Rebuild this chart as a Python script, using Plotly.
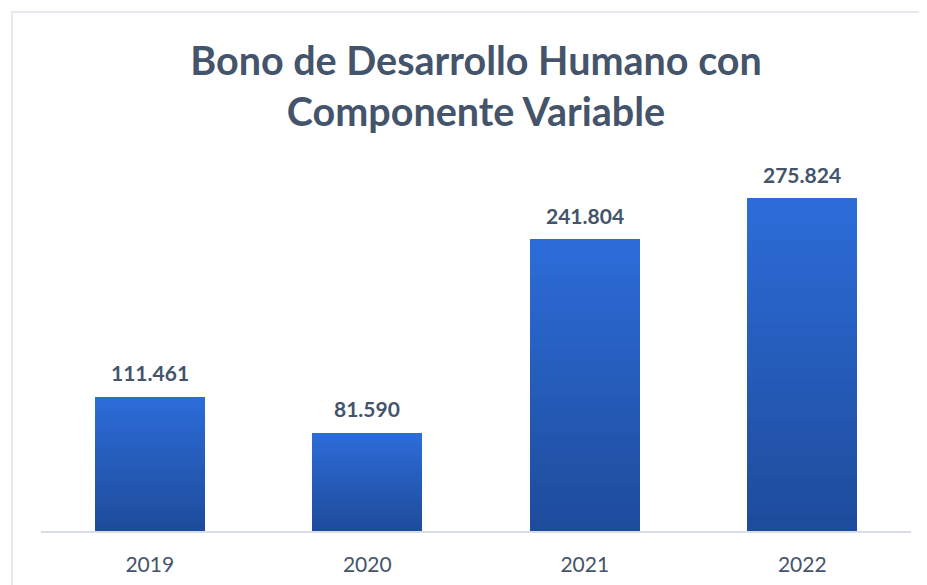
import plotly.graph_objects as go

categories = ["2019", "2020", "2021", "2022"]
values = [111.461, 81.590, 241.804, 275.824]
labels = ["111.461", "81.590", "241.804", "275.824"]
title_text = "Bono de Desarrollo Humano con<br>Componente Variable"

TEXT = "#44546A"
top_rgb = (44, 108, 216)
bot_rgb = (30, 76, 156)
N = 24

fig = go.Figure()
# gradient: overlay bars of decreasing fraction, top color lightest
for k in range(N):
    frac = 1 - k / N
    t = k / (N - 1)
    r = round(top_rgb[0] + (bot_rgb[0] - top_rgb[0]) * t)
    g = round(top_rgb[1] + (bot_rgb[1] - top_rgb[1]) * t)
    b = round(top_rgb[2] + (bot_rgb[2] - top_rgb[2]) * t)
    fig.add_trace(go.Bar(
        x=categories, y=[v * frac for v in values],
        marker=dict(color=f"rgb({r},{g},{b})", line=dict(width=0)),
        width=[0.506] * len(categories), hoverinfo="skip", showlegend=False,
    ))

for i, (v, lab) in enumerate(zip(values, labels)):
    fig.add_annotation(x=i, y=v, xref="x", yref="y", text=f"<b>{lab}</b>",
                       showarrow=False, yanchor="middle", yshift=24,
                       font=dict(family="Lato", size=21, color=TEXT))

fig.add_shape(type="rect", xref="paper", yref="paper",
              x0=-0.0333, x1=1.05, y0=-0.3, y1=1.4337,
              line=dict(color="#DEE3EA", width=1.5), layer="below")

fig.update_layout(
    width=927, height=585,
    margin=dict(l=33, r=24, t=161, b=62),
    paper_bgcolor="white", plot_bgcolor="white",
    barmode="overlay", bargap=0,
    title=dict(text=f"<b>{title_text}</b>", x=468 / 927, xanchor="center",
               y=1 - 66.5 / 585, yanchor="middle", yref="container",
               font=dict(family="Lato", size=39.5, color=TEXT)),
    xaxis=dict(type="category", range=[-0.5, 3.5], autorange=False,
               showline=True, linecolor="#D9DEE6", linewidth=1.5,
               tickfont=dict(family="Lato", size=21, color=TEXT),
               ticklabelstandoff=14,
               ticks="", showgrid=False),
    yaxis=dict(range=[0, 300], autorange=False, visible=False, showgrid=False),
)

fig.write_html("out.html")
